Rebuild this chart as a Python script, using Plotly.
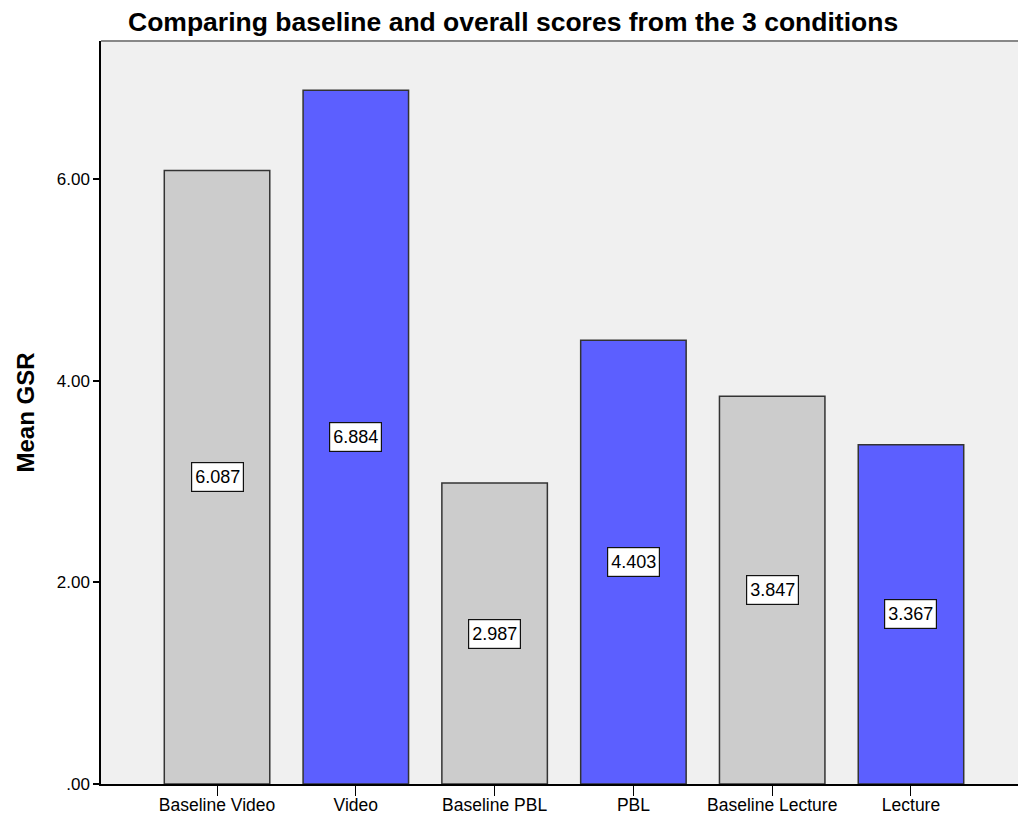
import plotly.graph_objects as go

categories = ["Baseline Video", "Video", "Baseline PBL", "PBL", "Baseline Lecture", "Lecture"]
mean_gsr = [6.087, 6.884, 2.987, 4.403, 3.847, 3.367]
bar_colors = ["#cccccc", "#5c5fff", "#cccccc", "#5c5fff", "#cccccc", "#5c5fff"]
y_ticks = [0, 2, 4, 6]
y_tick_text = [".00", "2.00", "4.00", "6.00"]

FONT = "Liberation Sans, Arial, sans-serif"

fig = go.Figure()
fig.add_trace(go.Bar(
    x=categories,
    y=mean_gsr,
    width=0.76,
    marker=dict(color=bar_colors, line=dict(color="#333333", width=1.5)),
    hoverinfo="x+y",
))

# value labels boxed at the middle of each bar
for cat, val in zip(categories, mean_gsr):
    fig.add_annotation(
        x=cat, y=val / 2, text=f"{val:.3f}", showarrow=False,
        font=dict(family=FONT, size=18, color="#000000"),
        width=49, height=26,
        bgcolor="#ffffff", bordercolor="#111111", borderwidth=1.2, borderpad=1,
    )

fig.update_layout(
    width=1018, height=816,
    margin=dict(l=101, r=0, t=41, b=32),
    paper_bgcolor="#ffffff",
    plot_bgcolor="#f0f0f0",
    showlegend=False,
    font=dict(family=FONT, color="#000000"),
    title=dict(
        text="<b>Comparing baseline and overall scores from the 3 conditions</b>",
        font=dict(family=FONT, size=26.5, color="#000000"),
        x=128 / 1018, xanchor="left", xref="container",
        y=1 - 22 / 816, yanchor="middle", yref="container",
    ),
    xaxis=dict(
        type="category", range=[-0.836, 5.771], automargin=False,
        showline=True, linecolor="#000000", linewidth=1.5,
        ticks="outside", ticklen=10, tickcolor="#000000", tickwidth=1,
        tickfont=dict(family=FONT, size=17.5, color="#000000"),
        ticklabelstandoff=-6,
        showgrid=False, zeroline=False,
    ),
    yaxis=dict(
        range=[0, 7.373], automargin=False,
        tickvals=y_ticks, ticktext=y_tick_text,
        showline=True, linecolor="#000000", linewidth=1.5,
        ticks="outside", ticklen=6, tickcolor="#000000", tickwidth=1.5,
        tickfont=dict(family=FONT, size=17, color="#000000"),
        showgrid=False, zeroline=False,
        title=dict(text="<b>Mean GSR</b>", font=dict(family=FONT, size=24, color="#000000"), standoff=15),
    ),
)

# thin gray frame along the top of the plotting area
fig.add_shape(type="line", xref="paper", yref="paper", x0=0, x1=1, y0=1, y1=1,
              line=dict(color="#888888", width=2))

fig.write_html("out.html")
